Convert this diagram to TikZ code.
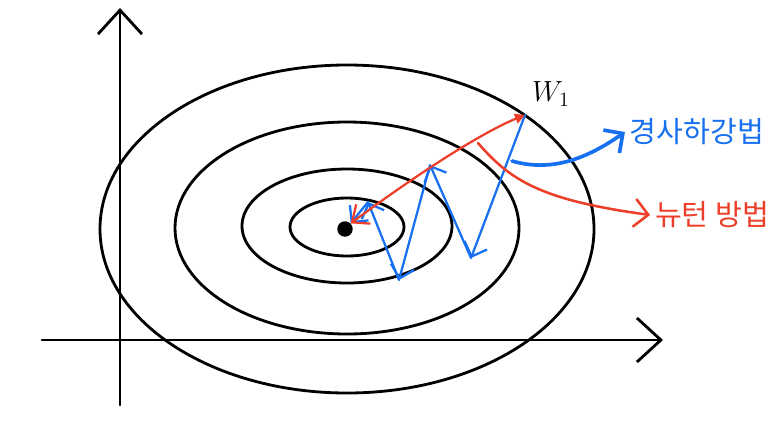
\documentclass[tikz,border=0pt]{standalone}
\usepackage{fontspec}
\newfontfamily\krfont{Noto Sans CJK KR}
\usetikzlibrary{arrows.meta}

\definecolor{gdblue}{RGB}{22,112,240}
\definecolor{ntred}{RGB}{236,62,40}

\tikzset{
	pen/.style={line width=2pt, line cap=round, line join=round},
	axisarrow/.style={pen, -{Straight Barb[length=6mm, width=11mm, line width=2pt]}},
	zig/.style={pen, gdblue, line width=1.6pt, -{Straight Barb[length=3mm, width=6mm]}},
}

\begin{document}
\begin{tikzpicture}[x=0.025cm, y=-0.025cm]
	\useasboundingbox (0,0) rectangle (774,422);
	% axes
	\coordinate (xs) at (42,340);
	\coordinate (xe) at (663,340);
	\coordinate (ys) at (120,405);
	\coordinate (ye) at (120,8);
	\draw[axisarrow] (xs) -- (xe);
	\draw[axisarrow] (ys) -- (ye);
	% level sets
	\draw[pen] (347,229) ellipse (247 and 164);
	\draw[pen] (347,228) ellipse (172 and 106);
	\draw[pen] (347,226) ellipse (105 and 57);
	\draw[pen] (347,227) ellipse (57 and 29);
	\node[circle, fill=black, inner sep=0pt, minimum size=11pt] (opt) at (345,229) {};
	% start point
	\coordinate (w1) at (525,115);
	\node[font=\huge] (w1lab) at (551,94) {$W_1$};
	% gradient descent zigzag
	\coordinate (g1) at (471,258);
	\coordinate (g2) at (430,165);
	\coordinate (g3) at (399,280);
	\coordinate (g4) at (368,202);
	\draw[zig] (w1) -- (g1);
	\draw[zig] (g1) -- (g2);
	\draw[zig] (g2) -- (g3);
	\draw[zig] (g3) -- (g4);
	\draw[zig] (g4) -- (opt.north east);
	% newton step
	\draw[pen, ntred, line width=1.6pt, {Triangle[length=2.5mm, width=2.5mm]}-{Straight Barb[length=3.5mm, width=6mm]}]
		(w1) .. controls (500,125) and (450,150) .. (opt.north east);
	% labels
	\node[text=gdblue, font=\krfont\huge] (gdlab) at (697,132) {경사하강법};
	\node[text=ntred, font=\krfont\huge] (ntlab) at (712,215) {뉴턴 방법};
	\coordinate (gdfrom) at (512,161);
	\coordinate (ntfrom) at (478,143);
	\draw[pen, gdblue, line width=2.6pt, -{Straight Barb[length=3.5mm, width=7mm]}]
		(gdfrom) .. controls (550,172) and (585,160) .. (gdlab.west);
	\draw[pen, ntred, line width=1.8pt, -{Straight Barb[length=3.5mm, width=7mm]}]
		(ntfrom) .. controls (510,180) and (540,200) .. (ntlab.west);
\end{tikzpicture}
\end{document}
